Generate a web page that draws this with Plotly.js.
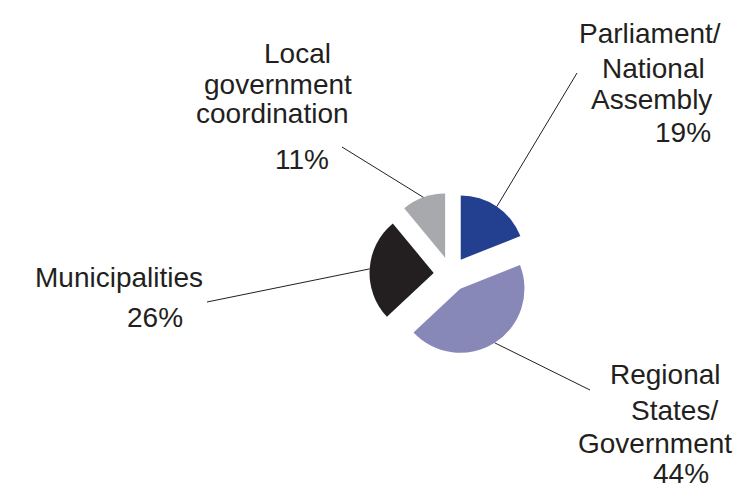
<!DOCTYPE html>
<html>
<head>
<meta charset="utf-8">
<script src="https://cdn.plot.ly/plotly-3.0.1.min.js"></script>
<style>html,body{margin:0;padding:0;background:#fff;}#chart{width:735px;height:491px;}</style>
</head>
<body>
<div id="chart"></div>
<script>
// ---- data ----
const categories = ['Parliament/<br>National<br>Assembly', 'Regional<br>States/<br>Government', 'Municipalities', 'Local<br>government<br>coordination'];
const values = [19, 44, 26, 11];
const sliceColors = ['#233f8f', '#8787b8', '#231f20', '#a7a9ac'];

// ---- layout configuration (pixels) ----
const W = 735, H = 491;
const pieCenter = [451, 274];
const pieOuter = 81.5;      // radius incl. pull
const pullFrac = 0.27;
const textColor = '#231f20';
const fontSize = 28;
const labelLayout = [
  { lines: [[650, 34], [653, 68.5], [651.5, 99.5]], pct: [683, 133], leaderEnd: [577, 73] },
  { lines: [[665, 374.7], [674, 410], [655, 443.7]], pct: [681, 473.5], leaderEnd: [590, 390] },
  { lines: [[119, 277]], pct: [155, 317], leaderEnd: [207, 302] },
  { lines: [[297.5, 54], [277.5, 84], [272.5, 113.5]], pct: [302, 159.5], leaderEnd: [342, 147] }
];

const px = x => x / W;
const py = y => 1 - y / H;

const total = values.reduce((a, b) => a + b, 0);
let cum = 0;
const shapes = [];
const annotations = [];
values.forEach((v, i) => {
  const midFrac = (cum + v / 2) / total;
  cum += v;
  const ang = midFrac * 2 * Math.PI; // clockwise from 12 o'clock
  const sx = pieCenter[0] + pieOuter * Math.sin(ang);
  const sy = pieCenter[1] - pieOuter * Math.cos(ang);
  const L = labelLayout[i];
  shapes.push({
    type: 'line', xref: 'paper', yref: 'paper',
    x0: px(sx), y0: py(sy), x1: px(L.leaderEnd[0]), y1: py(L.leaderEnd[1]),
    line: { color: textColor, width: 1 }
  });
  const lines = categories[i].split('<br>');
  lines.forEach((t, k) => {
    annotations.push({
      text: t, xref: 'paper', yref: 'paper',
      x: px(L.lines[k][0]), y: py(L.lines[k][1]),
      xanchor: 'center', yanchor: 'middle', showarrow: false,
      font: { family: 'Liberation Sans, Arial, sans-serif', size: fontSize, color: textColor }
    });
  });
  annotations.push({
    text: v + '%', xref: 'paper', yref: 'paper',
    x: px(L.pct[0]), y: py(L.pct[1]),
    xanchor: 'center', yanchor: 'middle', showarrow: false,
    font: { family: 'Liberation Sans, Arial, sans-serif', size: fontSize, color: textColor }
  });
});

const trace = {
  type: 'pie',
  labels: categories,
  values: values,
  sort: false,
  direction: 'clockwise',
  rotation: 0,
  pull: values.map(() => pullFrac),
  marker: { colors: sliceColors, line: { width: 0 } },
  textinfo: 'none',
  hoverinfo: 'none',
  showlegend: false,
  domain: {
    x: [px(pieCenter[0] - pieOuter), px(pieCenter[0] + pieOuter)],
    y: [py(pieCenter[1] + pieOuter), py(pieCenter[1] - pieOuter)]
  }
};

const layout = {
  width: W, height: H,
  margin: { l: 0, r: 0, t: 0, b: 0, pad: 0 },
  paper_bgcolor: '#ffffff',
  plot_bgcolor: '#ffffff',
  showlegend: false,
  shapes: shapes,
  annotations: annotations
};

Plotly.newPlot('chart', [trace], layout, { displayModeBar: false, staticPlot: true });
</script>
</body>
</html>
